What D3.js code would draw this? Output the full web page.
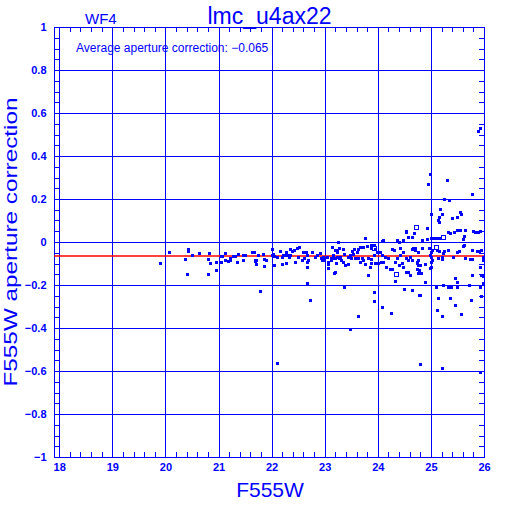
<!DOCTYPE html>
<html>
<head>
<meta charset="utf-8">
<script src="https://cdn.jsdelivr.net/npm/d3@7/dist/d3.min.js"></script>
<style>
  body { margin: 0; background: #fff; }
  text { font-family: "Liberation Sans", Arial, sans-serif; fill: #0000ff; }
</style>
</head>
<body>
<div id="chart"></div>
<script>
// Tick values
const xTicks = [18, 19, 20, 21, 22, 23, 24, 25, 26];
const yTicks = [-1, -0.8, -0.6, -0.4, -0.2, 0, 0.2, 0.4, 0.6, 0.8, 1];
const avgCorrection = -0.065;

// F555W magnitude and aperture correction of each star (filled squares)
const magnitude = [
  19.89, 20.06, 20.36, 20.42, 20.43, 20.40, 20.51, 20.63, 20.82, 20.80, 20.84, 20.80, 20.95, 20.95,
  21.04, 21.06, 21.04, 21.12, 21.13, 21.17, 21.22, 21.22, 21.28, 21.32, 21.36, 21.34, 21.46, 21.49, 21.46,
  21.50, 21.63, 21.67, 21.68, 21.70, 21.69, 21.71, 21.75, 21.84, 21.86, 21.89, 21.86, 21.79,
  22.00, 22.01, 22.03, 22.05, 22.10, 22.05, 22.16, 22.19, 22.19, 22.22, 22.27, 22.28, 22.27, 22.31,
  22.35, 22.35, 22.38, 22.33, 22.43, 22.47, 22.52, 22.44, 22.50, 22.58, 22.61, 22.60, 22.64, 22.66,
  22.67, 22.66, 22.69, 22.76, 22.66, 22.73, 22.82, 22.85, 22.91, 22.93, 22.96, 22.94, 22.97,
  23.04, 23.06, 23.12, 23.14, 23.12, 23.14, 23.19, 23.23, 23.16, 23.20, 23.23, 23.27, 23.25, 23.07,
  23.18, 23.21, 23.06, 22.11,
  23.23, 23.26, 23.29, 23.26, 23.31, 23.35, 23.38, 23.35, 23.37, 23.44, 23.48, 23.50, 23.43, 23.51,
  23.56, 23.54, 23.60, 23.63, 23.66, 23.57, 23.62, 23.66, 23.75, 23.73, 23.79, 23.70, 23.73, 23.75,
  23.82, 23.87, 23.85, 23.82, 23.87, 23.93, 23.88, 23.95, 23.98, 23.93, 23.88, 23.95,
  24.00, 24.06, 24.10, 24.07, 24.10, 24.04, 24.07, 24.14, 24.19, 24.15, 24.23, 24.26, 24.26, 24.31,
  24.32, 24.36, 24.32, 24.36, 24.39, 24.42, 24.48, 24.39, 24.45, 24.48, 24.42, 24.49, 24.48, 24.54,
  24.53, 24.57, 24.64, 24.69, 24.54, 24.57, 24.60, 24.64, 24.67, 24.70, 24.53, 24.57, 24.60, 24.64,
  24.65, 24.73, 24.76, 24.73, 24.76, 24.78, 23.92, 23.92, 23.37, 23.19, 24.07, 24.25, 23.63, 23.48, 24.79,
  24.92, 24.83, 24.92, 25.00, 25.05, 25.08, 25.13, 25.15, 25.33, 25.36, 25.44, 25.50, 25.55, 25.65,
  25.63, 25.61, 25.80, 25.83, 25.89, 25.93, 24.83, 24.70, 24.75, 24.96, 25.00, 25.03, 25.11, 25.15,
  25.25, 25.23, 25.33, 25.49, 25.52, 25.61, 25.63, 25.78, 25.86, 25.90, 25.95, 24.73, 24.80, 24.78,
  24.81, 24.75, 24.88, 24.98, 25.01, 25.03, 25.00, 25.01, 25.14, 25.20, 25.21, 25.42, 25.65, 25.73,
  25.92, 25.98, 25.98, 25.77, 25.95, 25.98, 25.45, 25.49, 24.89, 25.09, 25.23, 25.33, 25.38, 25.50,
  25.71, 25.92, 24.80, 25.14, 25.36, 25.45, 25.75, 24.98, 25.98, 25.95, 25.57, 25.20, 25.11, 25.78,
  25.20, 25.93,
  25.88, 25.93, 24.98, 24.95, 25.30, 25.78, 25.25, 25.35, 25.18, 25.01, 25.20, 25.16, 25.14, 25.16,
  25.39, 25.49, 25.55, 25.56
];
const apCorrection = [
  -0.099, -0.045, -0.080, -0.033, -0.040, -0.149, -0.060, -0.051, -0.051, -0.079, -0.099, -0.149, -0.093, -0.129,
  -0.064, -0.064, -0.092, -0.051, -0.082, -0.087, -0.074, -0.082, -0.064, -0.064, -0.056, -0.092, -0.060, -0.060, -0.082,
  -0.060, -0.045, -0.045, -0.082, -0.082, -0.088, -0.101, -0.060, -0.056, -0.078, -0.082, -0.112, -0.226,
  -0.033, -0.060, -0.056, -0.065, -0.071, -0.107, -0.042, -0.071, -0.102, -0.060, -0.060, -0.099, -0.045, -0.060,
  -0.060, -0.033, -0.042, -0.071, -0.037, -0.029, -0.022, -0.092, -0.068, -0.084, -0.076, -0.045, -0.048, -0.060,
  -0.115, -0.092, -0.084, -0.045, -0.189, -0.270, -0.071, -0.060, -0.053, -0.076, -0.068, -0.084, -0.084,
  -0.068, -0.092, -0.076, -0.076, -0.084, -0.022, -0.037, -0.045, -0.060, -0.076, -0.068, -0.068, -0.002, -0.123,
  -0.146, -0.099, -0.104, -0.561,
  -0.037, -0.029, -0.068, -0.076, -0.084, -0.092, -0.107, -0.033, -0.057, -0.071, -0.060, -0.076, -0.104, -0.042,
  -0.033, -0.057, -0.045, -0.033, -0.022, -0.076, -0.073, -0.092, 0.017, -0.022, -0.017, -0.076, -0.084, -0.104,
  -0.076, -0.079, -0.115, -0.153, -0.014, -0.014, -0.029, -0.033, -0.045, -0.060, -0.099, -0.099,
  -0.099, -0.094, -0.092, 0.005, 0.009, -0.045, -0.060, -0.068, -0.076, -0.115, -0.126, -0.126, -0.033, -0.037,
  -0.092, -0.076, -0.181, 0.009, 0.001, -0.029, -0.045, -0.107, -0.099, -0.115, -0.060, -0.219, 0.009, 0.051,
  0.045, 0.025, 0.025, 0.040, -0.076, -0.084, -0.068, -0.033, -0.029, -0.026, -0.138, -0.138, -0.153, -0.223,
  -0.084, -0.092, -0.107, -0.126, -0.146, -0.247, -0.231, -0.274, -0.208, -0.138, -0.301, -0.329, -0.343, -0.405, -0.566,
  0.067, 0.009, 0.014, 0.017, 0.017, 0.020, 0.020, 0.017, 0.048, 0.040, 0.048, 0.056, 0.056, 0.056,
  0.029, 0.014, 0.051, 0.045, 0.045, 0.051, -0.029, -0.037, -0.045, -0.029, -0.045, -0.037, -0.037, -0.042,
  -0.042, -0.053, -0.037, -0.045, -0.042, -0.017, -0.014, -0.037, -0.042, -0.042, -0.037, -0.099, -0.107, -0.130,
  -0.146, -0.084, -0.104, -0.060, -0.068, -0.084, -0.092, -0.115, -0.073, -0.068, -0.079, -0.071, -0.076, -0.081,
  -0.115, -0.068, -0.084, -0.153, -0.153, -0.157, -0.166, -0.185, -0.187, -0.210, -0.200, -0.208, -0.208, -0.208,
  -0.200, -0.208, -0.247, -0.262, -0.259, -0.293, -0.270, -0.123, -0.190, -0.251, -0.335, -0.343, -0.316, -0.080,
  -0.585, -0.603,
  0.516, 0.530, 0.318, 0.271, 0.288, 0.222, 0.201, 0.195, 0.153, 0.132, 0.130, 0.116, 0.102, 0.092,
  0.113, 0.116, 0.140, 0.130
];

// Stars drawn as open squares
const openMagnitude = [24.34, 24.72, 25.23, 25.09, 23.93];
const openCorrection = [-0.150, 0.068, 0.022, -0.022, -0.029];

const blue = "#0000ff";
const frame = { left: 54, right: 484, top: 27, bottom: 457 };

const svg = d3.select("#chart")
    .append("svg")
    .attr("width", 512)
    .attr("height", 512);

// Scales: x = 18 sits a few pixels inside the left frame edge
const xScale = d3.scaleLinear().domain([18, 26]).range([59.2, 484]);
const yScale = d3.scaleLinear().domain([-1, 1]).range([frame.bottom, frame.top]);

const px = v => Math.round(v) + 0.5;

const grid = svg.append("g")
    .attr("stroke", blue)
    .attr("stroke-width", 1)
    .attr("shape-rendering", "crispEdges");

// Vertical grid lines at every magnitude
grid.selectAll(".vgrid")
    .data(xTicks)
    .enter()
    .append("line")
    .attr("x1", d => px(xScale(d)))
    .attr("x2", d => px(xScale(d)))
    .attr("y1", frame.top)
    .attr("y2", frame.bottom);

// Horizontal grid lines at every 0.2
grid.selectAll(".hgrid")
    .data(yTicks)
    .enter()
    .append("line")
    .attr("x1", frame.left)
    .attr("x2", frame.right)
    .attr("y1", d => px(yScale(d)))
    .attr("y2", d => px(yScale(d)));

// Minor ticks
const xMinor = xScale.ticks(40).filter(d => Math.abs(d - Math.round(d)) > 0.01);
const yMinor = yScale.ticks(40).filter(d => Math.abs(d * 5 - Math.round(d * 5)) > 0.01);

xMinor.forEach(d => {
    const x = px(xScale(d));
    grid.append("line").attr("x1", x).attr("x2", x).attr("y1", frame.bottom).attr("y2", frame.bottom - 5);
    grid.append("line").attr("x1", x).attr("x2", x).attr("y1", frame.top).attr("y2", frame.top + 5);
});
yMinor.forEach(d => {
    const y = px(yScale(d));
    grid.append("line").attr("x1", frame.left).attr("x2", frame.left + 5).attr("y1", y).attr("y2", y);
    grid.append("line").attr("x1", frame.right).attr("x2", frame.right - 5).attr("y1", y).attr("y2", y);
});

// Frame
grid.append("rect")
    .attr("x", frame.left + 0.5)
    .attr("y", frame.top + 0.5)
    .attr("width", frame.right - frame.left)
    .attr("height", frame.bottom - frame.top)
    .attr("fill", "none");

// Average correction line
svg.append("line")
    .attr("x1", frame.left)
    .attr("x2", frame.right)
    .attr("y1", yScale(avgCorrection))
    .attr("y2", yScale(avgCorrection))
    .attr("stroke", "#ff0000")
    .attr("stroke-width", 1.3);

// Points
const points = magnitude.map((m, i) => ({ m, c: apCorrection[i] }));
svg.append("g")
    .selectAll("rect")
    .data(points)
    .enter()
    .append("rect")
    .attr("x", d => Math.round(xScale(d.m)) - 1)
    .attr("y", d => Math.round(yScale(d.c)) - 1)
    .attr("width", 3)
    .attr("height", 3)
    .attr("fill", blue);

const openPoints = openMagnitude.map((m, i) => ({ m, c: openCorrection[i] }));
svg.append("g")
    .selectAll("rect")
    .data(openPoints)
    .enter()
    .append("rect")
    .attr("x", d => Math.round(xScale(d.m)) - 1.5)
    .attr("y", d => Math.round(yScale(d.c)) - 1.5)
    .attr("width", 4)
    .attr("height", 4)
    .attr("fill", "none")
    .attr("stroke", blue)
    .attr("stroke-width", 1);

// Axis labels
const fmt = d3.format("~g");
const xAxis = d3.axisBottom(xScale).tickValues(xTicks).tickSize(0).tickPadding(6).tickFormat(fmt);
const yAxis = d3.axisLeft(yScale).tickValues(yTicks).tickSize(0).tickPadding(7.5).tickFormat(fmt);

const xAxisGroup = svg.append("g")
    .attr("transform", `translate(0,${frame.bottom})`)
    .call(xAxis);
const yAxisGroup = svg.append("g")
    .attr("transform", `translate(${frame.left},0)`)
    .call(yAxis);

[xAxisGroup, yAxisGroup].forEach(g => {
    g.select(".domain").remove();
    g.selectAll("text")
        .attr("fill", blue)
        .style("font-family", "'Liberation Sans', Arial, sans-serif")
        .style("font-size", "11px")
        .style("font-weight", "bold");
});

// Titles
svg.append("text")
    .attr("x", 269.5)
    .attr("y", 24)
    .attr("text-anchor", "middle")
    .style("font-size", "23px")
    .text("lmc_u4ax22");

svg.append("text")
    .attr("x", 85)
    .attr("y", 24)
    .style("font-size", "15px")
    .text("WF4");

svg.append("text")
    .attr("x", 76)
    .attr("y", 52)
    .style("font-size", "12px")
    .text("Average aperture correction: \u22120.065");

svg.append("text")
    .attr("x", 270)
    .attr("y", 497)
    .attr("text-anchor", "middle")
    .style("font-size", "21px")
    .text("F555W");

svg.append("text")
    .attr("transform", "translate(16.5,242) rotate(-90)")
    .attr("text-anchor", "middle")
    .attr("textLength", 289)
    .attr("lengthAdjust", "spacingAndGlyphs")
    .style("font-size", "19px")
    .text("F555W aperture correction");
</script>
</body>
</html>
